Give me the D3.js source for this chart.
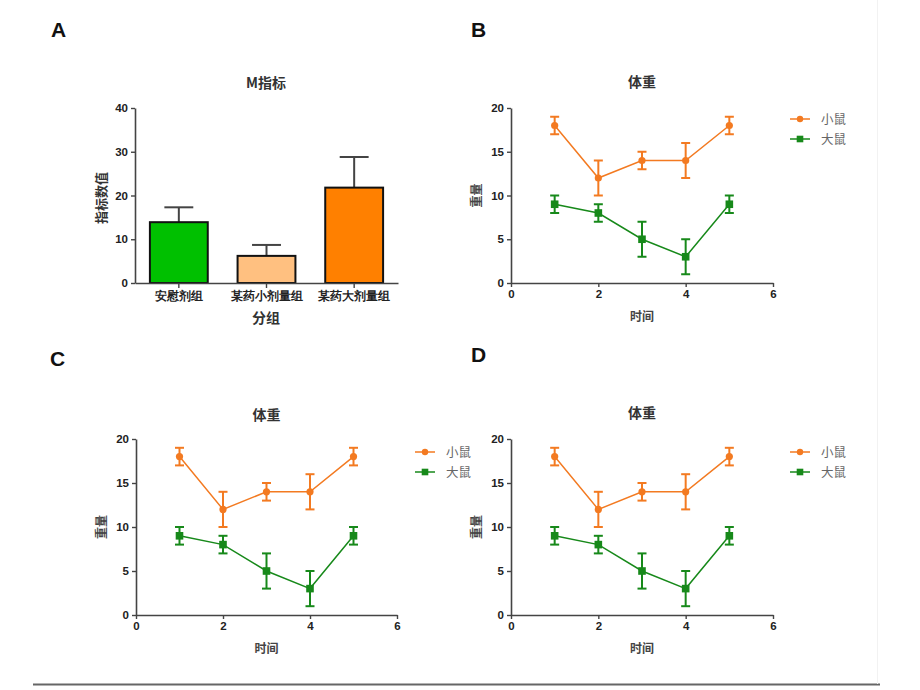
<!DOCTYPE html>
<html><head><meta charset="utf-8">
<script src="https://cdn.jsdelivr.net/npm/d3@7"></script>
<style>
body{margin:0;background:#fff;}
svg{display:block;}
.tick text{font-family:"Liberation Sans",Arial,sans-serif;font-weight:bold;font-size:11.5px;fill:#222;}
</style></head>
<body>
<svg id="c" width="920" height="690"></svg>
<script>
// ---- Data ----
const barCategories = ["安慰剂组", "某药小剂量组", "某药大剂量组"];
const barValues = [13.9, 6.2, 21.8];
const barErrors = [3.4, 2.5, 7.0];
const barColors = ["#00c000", "#ffc080", "#ff8000"];
const barTicks = [0, 10, 20, 30, 40];

const timePoints = [1, 2, 3, 4, 5];
const mouseValues = [18, 12, 14, 14, 18];
const mouseErrors = [1, 2, 1, 2, 1];
const ratValues = [9, 8, 5, 3, 9];
const ratErrors = [1, 1, 2, 2, 1];
const lineYTicks = [0, 5, 10, 15, 20];
const lineXTicks = [0, 2, 4, 6];
const seriesNames = ["小鼠", "大鼠"];
const seriesColors = ["#f37a21", "#17891a"];

const svg = d3.select("#c");
const cjk = '"Noto Sans CJK SC", sans-serif';
const axisColor = "#444";
const fmt = d3.format("d");

function styleAxis(g) {
  g.selectAll("path.domain").attr("stroke", axisColor).attr("stroke-width", 1.6);
  g.selectAll(".tick line").attr("stroke", axisColor).attr("stroke-width", 1.4);
}

function panelLetter(t, x, y) {
  svg.append("text").attr("x", x).attr("y", y).text(t)
    .attr("font-family", '"Liberation Sans",Arial,sans-serif').attr("font-weight", "bold")
    .attr("font-size", 21).attr("fill", "#111");
}

// ---- Panel A ----
panelLetter("A", 51, 37);
(function () {
  const x = d3.scaleBand().domain(barCategories).range([135, 398]).paddingInner(0.34).paddingOuter(0.17);
  const y = d3.scaleLinear().domain([0, 40]).range([283, 108]);
  const g = svg.append("g");
  barCategories.forEach((c, i) => {
    const cx = x(c) + x.bandwidth() / 2;
    g.append("line").attr("x1", cx).attr("x2", cx).attr("y1", y(barValues[i])).attr("y2", y(barValues[i] + barErrors[i]))
      .attr("stroke", "#444").attr("stroke-width", 2);
    g.append("line").attr("x1", cx - x.bandwidth() / 4).attr("x2", cx + x.bandwidth() / 4)
      .attr("y1", y(barValues[i] + barErrors[i])).attr("y2", y(barValues[i] + barErrors[i]))
      .attr("stroke", "#444").attr("stroke-width", 2);
  });
  g.selectAll("rect").data(barValues).join("rect")
    .attr("x", (d, i) => x(barCategories[i])).attr("width", x.bandwidth())
    .attr("y", d => y(d)).attr("height", d => y(0) - y(d))
    .attr("fill", (d, i) => barColors[i]).attr("stroke", "#111").attr("stroke-width", 2);
  const ya = g.append("g").attr("transform", "translate(135,0)")
    .call(d3.axisLeft(y).tickValues(barTicks).tickFormat(fmt).tickSize(4).tickSizeOuter(0));
  styleAxis(ya);
  const xa = g.append("g").attr("transform", "translate(0,283)")
    .call(d3.axisBottom(x).tickSize(5).tickSizeOuter(0));
  styleAxis(xa);
  xa.selectAll(".tick text").attr("font-family", cjk).attr("font-weight", "normal").attr("font-size", 13).attr("fill", "#333").attr("dy", "0.75em");
  g.append("text").attr("x", 266).attr("y", 88).attr("text-anchor", "middle").text("M指标")
    .attr("font-family", cjk).attr("font-weight", "bold").attr("font-size", 14).attr("fill", "#333");
  g.append("text").attr("transform", "translate(106,198) rotate(-90)").attr("text-anchor", "middle").text("指标数值")
    .attr("font-family", cjk).attr("font-weight", "bold").attr("font-size", 13).attr("fill", "#333");
  g.append("text").attr("x", 266).attr("y", 323).attr("text-anchor", "middle").text("分组")
    .attr("font-family", cjk).attr("font-weight", "bold").attr("font-size", 14).attr("fill", "#333");
})();

// ---- Line panels ----
function linePanel(x0, x1, y0, y1, titleY, legendX, legendY) {
  const x = d3.scaleLinear().domain([0, 6]).range([x0, x1]);
  const y = d3.scaleLinear().domain([0, 20]).range([y0, y1]);
  const g = svg.append("g");
  const ya = g.append("g").attr("transform", `translate(${x0},0)`)
    .call(d3.axisLeft(y).tickValues(lineYTicks).tickFormat(fmt).tickSize(4).tickSizeOuter(0));
  styleAxis(ya);
  const xa = g.append("g").attr("transform", `translate(0,${y0})`)
    .call(d3.axisBottom(x).tickValues(lineXTicks).tickFormat(fmt).tickSize(4).tickSizeOuter(0));
  styleAxis(xa);
  const midX = (x0 + x1) / 2;
  g.append("text").attr("x", midX).attr("y", titleY).attr("text-anchor", "middle").text("体重")
    .attr("font-family", cjk).attr("font-weight", "bold").attr("font-size", 14).attr("fill", "#333");
  g.append("text").attr("x", midX).attr("y", y0 + 38).attr("text-anchor", "middle").text("时间")
    .attr("font-family", cjk).attr("font-weight", "bold").attr("font-size", 12).attr("fill", "#444");
  g.append("text").attr("transform", `translate(${x0 - 30},${(y0 + y1) / 2}) rotate(-90)`).attr("text-anchor", "middle").text("重量")
    .attr("font-family", cjk).attr("font-weight", "bold").attr("font-size", 12).attr("fill", "#444");

  const series = [
    { vals: mouseValues, errs: mouseErrors, color: seriesColors[0], shape: "circle" },
    { vals: ratValues, errs: ratErrors, color: seriesColors[1], shape: "square" }
  ];
  const line = d3.line().x((d, i) => x(timePoints[i])).y(d => y(d));
  series.forEach((s, si) => {
    g.append("path").datum(s.vals).attr("d", line).attr("fill", "none").attr("stroke", s.color).attr("stroke-width", 1.5);
    s.vals.forEach((v, i) => {
      const cx = x(timePoints[i]);
      const top = y(v + s.errs[i]), bot = y(v - s.errs[i]);
      g.append("line").attr("x1", cx).attr("x2", cx).attr("y1", top).attr("y2", bot).attr("stroke", s.color).attr("stroke-width", 2);
      [top, bot].forEach(yy => g.append("line").attr("x1", cx - 4.5).attr("x2", cx + 4.5).attr("y1", yy).attr("y2", yy)
        .attr("stroke", s.color).attr("stroke-width", 2));
      if (s.shape === "circle") {
        g.append("circle").attr("cx", cx).attr("cy", y(v)).attr("r", 3.6).attr("fill", s.color);
      } else {
        g.append("rect").attr("x", cx - 3.8).attr("y", y(v) - 3.8).attr("width", 7.6).attr("height", 7.6).attr("fill", s.color);
      }
    });
    const ly = legendY + si * 20;
    g.append("line").attr("x1", legendX).attr("x2", legendX + 20).attr("y1", ly).attr("y2", ly).attr("stroke", s.color).attr("stroke-width", 1.5);
    if (s.shape === "circle") g.append("circle").attr("cx", legendX + 10).attr("cy", ly).attr("r", 3.2).attr("fill", s.color);
    else g.append("rect").attr("x", legendX + 6.7).attr("y", ly - 3.3).attr("width", 6.6).attr("height", 6.6).attr("fill", s.color);
    g.append("text").attr("x", legendX + 31).attr("y", ly + 4.5).text(seriesNames[si])
      .attr("font-family", cjk).attr("font-size", 12.5).attr("fill", "#666");
  });
}

panelLetter("B", 471, 37);
linePanel(511, 773, 283, 108, 87, 790, 119);
panelLetter("C", 50, 366);
linePanel(136, 397, 615, 439, 420, 415, 452);
panelLetter("D", 471, 362);
linePanel(511, 773, 615, 439, 418, 790, 452);

svg.append("line").attr("x1", 33).attr("x2", 880).attr("y1", 684.5).attr("y2", 684.5).attr("stroke", "#666").attr("stroke-width", 2);
svg.append("line").attr("x1", 877.5).attr("x2", 877.5).attr("y1", 0).attr("y2", 684).attr("stroke", "#f2f2f2").attr("stroke-width", 1);
</script>
</body></html>
